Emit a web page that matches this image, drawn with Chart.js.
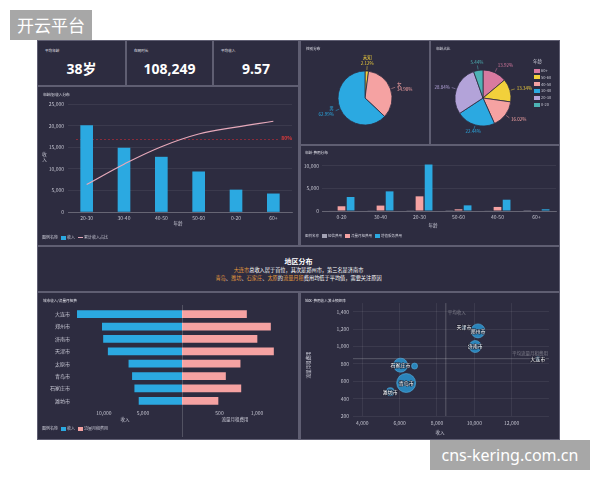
<!DOCTYPE html>
<html>
<head>
<meta charset="utf-8">
<script src="https://cdn.jsdelivr.net/npm/chart.js"></script>
<style>
  body { margin: 0; width: 600px; height: 480px; background: #fff; position: relative; overflow: hidden;
         font-family: "Noto Sans CJK SC", "Noto Sans", sans-serif; }
  .tag { position: absolute; background: #a7a7a7; color: #fff; white-space: nowrap; text-align: center; }
  #brand { left: 10px; top: 10px; width: 82px; height: 30px; font-size: 17px; line-height: 30px; }
  #mark { left: 430px; top: 440px; width: 160px; height: 30px; font-size: 16px; line-height: 30px; font-family: "Noto Sans", sans-serif; }
  #board { position: absolute; left: 37px; top: 40px; width: 523px; height: 400px; background: #5f5e72; }
  .p { position: absolute; background: #2d2c40; overflow: hidden; }
  .p canvas { position: absolute; top: 0; left: 0; }
  .t { position: absolute; color: #e4e4ec; font-size: 3.6px; line-height: 5px; white-space: nowrap; }
  .kv { position: absolute; left: 0; right: 0; top: 20px; text-align: center; color: #fff;
        font: bold 14px/16px "Noto Sans", "Noto Sans CJK SC", sans-serif; }
  .at { position: absolute; color: #c8c8d4; font-size: 4.5px; line-height: 5px; white-space: nowrap; transform: translate(-50%, -50%); }
  .lg { position: absolute; color: #c8c8d4; font-size: 4px; line-height: 6px; white-space: nowrap; }
  .lg i { display: inline-block; width: 5px; height: 4px; margin: 0 1px 0 3px; vertical-align: -0.5px; }
  .lg b { display: inline-block; width: 5px; height: 1px; margin: 0 1px 0 3px; vertical-align: 1.5px; }
  .bt { position: absolute; left: 0; right: 0; text-align: center; white-space: nowrap; }
  .o { color: #e39a3c; }
</style>
</head>
<body>
<div class="tag" id="brand">开云平台</div>

<div id="board">
  <div class="p" id="k1" style="left:1px;top:1px;width:87px;height:44px"></div>
  <div class="p" id="k2" style="left:90px;top:1px;width:85px;height:44px"></div>
  <div class="p" id="k3" style="left:177px;top:1px;width:84px;height:44px"></div>

  <div class="p" style="left:1px;top:47px;width:260px;height:158px">
    <canvas id="incomeChart" width="260" height="158"></canvas>
    <div class="t" style="left:5px;top:5px">年龄段/收入分布</div>
    <div class="at" style="left:6px;top:70px;writing-mode:vertical-rl;transform:translate(-50%,-50%)">收入</div>
    <div class="at" style="left:140px;top:136px">年龄</div>
    <div class="lg" id="incomeLegend" style="left:4px;top:147px"></div>
  </div>

  <div class="p" style="left:264px;top:1px;width:128px;height:103px">
    <canvas id="genderChart" width="128" height="103"></canvas>
    <div class="t" style="left:5px;top:5px">性别分布</div>
  </div>

  <div class="p" style="left:394px;top:1px;width:128px;height:103px">
    <canvas id="ageChart" width="128" height="103"></canvas>
    <div class="t" style="left:5px;top:5px">年龄占比</div>
    <div id="ageLegend"></div>
  </div>

  <div class="p" style="left:264px;top:106px;width:258px;height:99px">
    <canvas id="feeChart" width="258" height="99"></canvas>
    <div class="t" style="left:4px;top:4px">年龄-费用分布</div>
    <div class="at" style="left:132px;top:79px">年龄</div>
    <div class="lg" id="feeLegend" style="left:4px;top:87px;font-size:3.5px"></div>
  </div>

  <div class="p" style="left:1px;top:207px;width:521px;height:44px;color:#fff">
    <div class="bt" style="top:10px;font-size:7px;line-height:8px;font-weight:bold">地区分布</div>
    <div class="bt" style="top:20px;font-size:5.2px;line-height:6px"><span class="o">大连市</span>总收入居于首位，其次是郑州市，第三名是济南市</div>
    <div class="bt" style="top:28px;font-size:5.2px;line-height:6px"><span class="o">青岛</span>、<span class="o">潍坊</span>、<span class="o">石家庄</span>、<span class="o">太原</span>的<span class="o">流量月租</span>费用均低于平均值，需要关注原因</div>
  </div>

  <div class="p" style="left:1px;top:253px;width:260px;height:146px">
    <canvas id="cityIncomeChart" width="144" height="146"></canvas>
    <canvas id="cityFeeChart" width="116" height="146" style="left:144px"></canvas>
    <div style="position:absolute;left:144px;top:12px;width:1px;height:132px;background:rgba(255,255,255,0.18)"></div>
    <div class="t" style="left:5px;top:5px">城市收入/流量月租费</div>
    <div class="at" style="left:87px;top:126px">收入</div>
    <div class="at" style="left:197px;top:126px">流量月租费用</div>
    <div class="lg" id="cityLegend" style="left:4px;top:132px"></div>
  </div>

  <div class="p" style="left:264px;top:253px;width:258px;height:146px">
    <canvas id="bubbleChart" width="258" height="146"></canvas>
    <div class="t" style="left:4px;top:5px">地区-费用收入波士顿矩阵</div>
    <div class="at" style="left:139px;top:139px">收入</div>
    <div class="at" style="left:7px;top:72px;transform:translate(-50%,-50%) rotate(-90deg)">流量月租费用</div>
  </div>
</div>

<div class="tag" id="mark">cns-kering.com.cn</div>

<script>
'use strict'

// KPI cards
let kpiNames = ['平均年龄', '在网时长', '平均收入'];
let kpiValues = ['38岁', '108,249', '9.57'];

// 年龄段/收入分布
let incomeAges = ['20-30', '30-40', '40-50', '50-60', '0-20', '60+'];
let incomeValues = [20000, 14800, 12700, 9300, 5100, 4200];
let incomeCumPct = [30.3, 52.7, 71.9, 85.9, 93.6, 100];
let incomeTicks = [0, 5000, 10000, 15000, 20000, 25000];
let targetPct = 80;

// 性别分布
let genderNames = ['未知', '女', '男'];
let genderPct = [2.12, 34.90, 62.99];

// 年龄占比
let ageNames = ['60+', '50-60', '40-50', '30-40', '20-30', '0-20'];
let agePct = [13.92, 13.34, 16.02, 22.44, 28.84, 5.44];

// 年龄-费用分布
let feeAges = ['0-20', '30-40', '20-30', '50-60', '40-50', '60+'];
let feeNames = ['短信费用', '流量月租费用', '增值服务费用'];
let smsFee = [120, 80, 150, 60, 90, 40];
let dataFee = [1050, 1200, 3250, 380, 900, 100];
let vasFee = [3100, 4350, 10300, 1250, 2500, 380];
let feeTicks = [0, 5000, 10000];

// cities
let cities = ['大连市', '郑州市', '济南市', '天津市', '太原市', '青岛市', '石家庄市', '潍坊市'];
let cityIncome = [13400, 10200, 10050, 9450, 6800, 6350, 6050, 5500];
let cityDataFee = [860, 1180, 1000, 1220, 775, 580, 785, 480];
let cityUsers = [40, 490, 360, 40, 90, 900, 490, 160];
let incomeSideTicks = [5000, 10000];
let feeSideTicks = [500, 1000];
let bubbleXTicks = [4000, 6000, 8000, 10000, 12000];
let bubbleYTicks = [200, 400, 600, 800, 1000, 1200, 1400];

let blue = '#2ba9e1';
let pink = '#f5a2a2';
let gray = '#a3a2b4';
let yellow = '#f2d03b';
let ageColors = ['#d97aa0', yellow, pink, blue, '#b3a3d9', '#4db3b5'];
let gridColor = 'rgba(255,255,255,0.07)';
let axisLine = 'rgba(255,255,255,0.22)';
let cjk = '"Noto Sans CJK SC", "Noto Sans", sans-serif';

Chart.defaults.font.family = cjk;
Chart.defaults.font.size = 5;
Chart.defaults.color = '#c2c2ce';
Chart.defaults.animation = false;
Chart.defaults.plugins.legend.display = false;
Chart.defaults.plugins.tooltip.enabled = false;

// kpi cards
for (let i = 0; i < kpiNames.length; i++) {
    let card = document.getElementById('k' + (i + 1));
    card.innerHTML = `<div class="t" style="left:7px;top:7px">${kpiNames[i]}</div><div class="kv">${kpiValues[i]}</div>`;
}

function fixTicks (list) {
    return function (axis) {
        axis.ticks = list.map(v => ({ value: v }));
    };
}
function fixWidth (w) {
    return function (axis) { axis.width = w; };
}
function fixHeight (h) {
    return function (axis) { axis.height = h; };
}
function num (v) {
    return Number(v).toLocaleString('en-US');
}
function legendHtml (names, colors, kinds) {
    let html = '图例名称';
    for (let i = 0; i < names.length; i++) {
        let tag = kinds && kinds[i] === 'line' ? 'b' : 'i';
        html += `<${tag} style="background:${colors[i]}"></${tag}>${names[i]}`;
    }
    return html;
}

// red 80% line on the cumulative axis
let targetLine = {
    id: 'targetLine',
    beforeDatasetsDraw (chart) {
        let ctx = chart.ctx;
        let a = chart.chartArea;
        let y = chart.scales.y1.getPixelForValue(targetPct);
        ctx.save();
        ctx.strokeStyle = 'rgba(190,45,55,0.8)';
        ctx.lineWidth = 0.8;
        ctx.setLineDash([2, 2]);
        ctx.beginPath();
        ctx.moveTo(a.left + 8, y);
        ctx.lineTo(a.right - 14, y);
        ctx.stroke();
        ctx.fillStyle = '#e03a3a';
        ctx.font = 'bold 5px ' + cjk;
        ctx.textAlign = 'right';
        ctx.textBaseline = 'middle';
        ctx.fillText(targetPct + '%', a.right, y - 1);
        ctx.restore();
    }
};

new Chart('incomeChart', {
    type: 'bar',
    data: {
        labels: incomeAges,
        datasets: [{
            type: 'line',
            label: '累计收入占比',
            data: incomeCumPct,
            yAxisID: 'y1',
            borderColor: '#e6a9ba',
            borderWidth: 1.2,
            tension: 0.4,
            pointRadius: 0,
            order: 0
        }, {
            label: '收入',
            data: incomeValues,
            backgroundColor: blue,
            barThickness: 12,
            order: 1
        }]
    },
    options: {
        responsive: false,
        layout: { padding: { left: 0, right: 6, top: 17, bottom: 19 } },
        scales: {
            x: { grid: { display: false, drawTicks: false }, border: { color: axisLine }, ticks: { padding: 3 }, afterFit: fixHeight(14) },
            y: { min: 0, max: 25000, afterBuildTicks: fixTicks(incomeTicks),
                 grid: { color: gridColor, drawTicks: false }, border: { display: false },
                 ticks: { padding: 4, callback: num }, afterFit: fixWidth(30) },
            y1: { display: false, min: 0, max: 119 }
        }
    },
    plugins: [targetLine]
});
document.getElementById('incomeLegend').innerHTML = legendHtml(['收入', '累计收入占比'], [blue, '#e6a9ba'], ['bar', 'line']);

// pie labels outside the slices
function pieLabels (names) {
    return {
        id: 'pieLabels',
        afterDatasetsDraw (chart) {
            let ctx = chart.ctx;
            let ds = chart.data.datasets[0];
            ctx.save();
            ctx.font = '4.5px ' + cjk;
            ctx.lineWidth = 0.5;
            chart.getDatasetMeta(0).data.forEach(function (arc, i) {
                let ang = (arc.startAngle + arc.endAngle) / 2;
                let r = arc.outerRadius;
                let c = Math.cos(ang);
                let s = Math.sin(ang);
                let color = ds.backgroundColor[i];
                ctx.strokeStyle = color;
                ctx.beginPath();
                ctx.moveTo(arc.x + c * (r + 1), arc.y + s * (r + 1));
                ctx.lineTo(arc.x + c * (r + 5), arc.y + s * (r + 5));
                ctx.stroke();
                let pct = ds.data[i].toFixed(2) + '%';
                let lines = names ? [names[i], pct] : [pct];
                let x = arc.x + c * (r + 7);
                let y = arc.y + s * (r + 7);
                ctx.fillStyle = color;
                ctx.textAlign = c > 0.35 ? 'left' : (c < -0.35 ? 'right' : 'center');
                ctx.textBaseline = 'middle';
                let h = 5.5;
                let y0 = y - (lines.length - 1) * h / 2;
                if (s < -0.8) y0 -= (lines.length - 1) * h / 2 + 1;
                lines.forEach((t, k) => ctx.fillText(t, x, y0 + k * h));
            });
            ctx.restore();
        }
    };
}

new Chart('genderChart', {
    type: 'pie',
    data: {
        labels: genderNames,
        datasets: [{ data: genderPct, backgroundColor: [yellow, pink, blue], borderColor: '#2d2c40', borderWidth: 0.8, hoverOffset: 0 }]
    },
    options: {
        responsive: false,
        radius: 27,
        layout: { padding: { left: 37, right: 37, top: 30, bottom: 19 } }
    },
    plugins: [pieLabels(genderNames)]
});

new Chart('ageChart', {
    type: 'pie',
    data: {
        labels: ageNames,
        datasets: [{ data: agePct, backgroundColor: ageColors, borderColor: '#2d2c40', borderWidth: 0.8, hoverOffset: 0 }]
    },
    options: {
        responsive: false,
        radius: 28,
        layout: { padding: { left: 24, right: 48, top: 29, bottom: 18 } }
    },
    plugins: [pieLabels(null)]
});

let ageLegend = '<div class="lg" style="left:102px;top:17px;font-size:4.5px">年龄</div>';
for (let i = 0; i < ageNames.length; i++) {
    ageLegend += `<div class="lg" style="left:100px;top:${26 + i * 6.8}px"><i style="background:${ageColors[i]};width:6px"></i>${ageNames[i]}</div>`;
}
document.getElementById('ageLegend').innerHTML = ageLegend;

new Chart('feeChart', {
    type: 'bar',
    data: {
        labels: feeAges,
        datasets: [
            { label: feeNames[0], data: smsFee, backgroundColor: gray },
            { label: feeNames[1], data: dataFee, backgroundColor: pink },
            { label: feeNames[2], data: vasFee, backgroundColor: blue }
        ]
    },
    options: {
        responsive: false,
        datasets: { bar: { categoryPercentage: 0.7, barPercentage: 0.85 } },
        layout: { padding: { left: 0, right: 3, top: 14, bottom: 22 } },
        scales: {
            x: { grid: { display: false, drawTicks: false }, border: { color: axisLine }, ticks: { padding: 3 }, afterFit: fixHeight(12) },
            y: { min: 0, max: 11300, afterBuildTicks: fixTicks(feeTicks),
                 grid: { color: gridColor, drawTicks: false }, border: { display: false },
                 ticks: { padding: 3, callback: num }, afterFit: fixWidth(21) }
        }
    }
});
document.getElementById('feeLegend').innerHTML = legendHtml(feeNames, [gray, pink, blue]);

// butterfly: income to the left, data fee to the right
new Chart('cityIncomeChart', {
    type: 'bar',
    data: { labels: cities, datasets: [{ label: '收入', data: cityIncome, backgroundColor: blue, barThickness: 7 }] },
    options: {
        indexAxis: 'y',
        responsive: false,
        layout: { padding: { left: 0, right: 0, top: 15, bottom: 20 } },
        scales: {
            x: { reverse: true, min: 0, max: 13700, afterBuildTicks: fixTicks(incomeSideTicks),
                 grid: { display: false, drawTicks: false }, border: { display: false },
                 ticks: { padding: 3, callback: num }, afterFit: fixHeight(12) },
            y: { grid: { display: false, drawTicks: false }, border: { display: false }, ticks: { padding: 5, color: '#c8c8d4' }, afterFit: fixWidth(37) }
        }
    }
});

new Chart('cityFeeChart', {
    type: 'bar',
    data: { labels: cities, datasets: [{ label: '流量月租费用', data: cityDataFee, backgroundColor: pink, barThickness: 7 }] },
    options: {
        indexAxis: 'y',
        responsive: false,
        layout: { padding: { left: 0, right: 8, top: 15, bottom: 20 } },
        scales: {
            x: { min: 0, max: 1440, afterBuildTicks: fixTicks(feeSideTicks),
                 grid: { display: false, drawTicks: false }, border: { display: false },
                 ticks: { padding: 3, callback: num }, afterFit: fixHeight(12) },
            y: { display: false }
        }
    }
});
document.getElementById('cityLegend').innerHTML = legendHtml(['收入', '流量月租费用'], [blue, pink]);

// bubble matrix
let avgIncome = cityIncome.reduce((a, b) => a + b, 0) / cityIncome.length;
let avgFee = cityDataFee.reduce((a, b) => a + b, 0) / cityDataFee.length;

let avgLines = {
    id: 'avgLines',
    beforeDatasetsDraw (chart) {
        let ctx = chart.ctx;
        let a = chart.chartArea;
        let x = chart.scales.x.getPixelForValue(avgIncome);
        let y = chart.scales.y.getPixelForValue(avgFee);
        ctx.save();
        ctx.strokeStyle = 'rgba(255,255,255,0.28)';
        ctx.lineWidth = 0.8;
        ctx.beginPath();
        ctx.moveTo(x, a.top);
        ctx.lineTo(x, a.bottom);
        ctx.moveTo(a.left, y);
        ctx.lineTo(a.right, y);
        ctx.stroke();
        ctx.fillStyle = 'rgba(255,255,255,0.35)';
        ctx.font = '4.5px ' + cjk;
        ctx.textBaseline = 'middle';
        ctx.textAlign = 'left';
        ctx.fillText('平均收入', x + 2, a.top + 9);
        ctx.textAlign = 'right';
        ctx.fillText('平均流量月租费用', a.right - 1, y - 5);
        ctx.restore();
    }
};

let bubbleNames = {
    id: 'bubbleNames',
    afterDatasetsDraw (chart) {
        let ctx = chart.ctx;
        let pts = chart.getDatasetMeta(0).data;
        let order = cities.map((c, i) => i).sort((a, b) => cityUsers[b] - cityUsers[a]);
        let boxes = [];
        ctx.save();
        ctx.font = '5px ' + cjk;
        ctx.textAlign = 'center';
        ctx.textBaseline = 'middle';
        ctx.lineWidth = 1.2;
        ctx.strokeStyle = 'rgba(25,25,40,0.8)';
        ctx.fillStyle = '#ffffff';
        order.forEach(function (i) {
            let p = pts[i];
            let w = ctx.measureText(cities[i]).width;
            let box = { l: p.x - w / 2 + 1, r: p.x + w / 2 - 1, t: p.y - 2, b: p.y + 2 };
            let hit = boxes.some(o => box.l < o.r && box.r > o.l && box.t < o.b && box.b > o.t);
            if (hit) return;
            boxes.push(box);
            ctx.strokeText(cities[i], p.x, p.y);
            ctx.fillText(cities[i], p.x, p.y);
        });
        ctx.restore();
    }
};

new Chart('bubbleChart', {
    type: 'bubble',
    data: {
        datasets: [{
            label: '城市',
            data: cities.map((c, i) => ({ x: cityIncome[i], y: cityDataFee[i], r: Math.sqrt(cityUsers[i]) / 3.16 })),
            backgroundColor: 'rgba(42,140,196,0.92)',
            borderColor: 'rgba(90,185,235,0.9)',
            borderWidth: 0.6
        }]
    },
    options: {
        responsive: false,
        layout: { padding: { left: 0, right: 4, top: 10, bottom: 11 } },
        scales: {
            x: { min: 3500, max: 14000, afterBuildTicks: fixTicks(bubbleXTicks),
                 grid: { color: gridColor, drawTicks: false }, border: { display: false },
                 ticks: { padding: 4, callback: num }, afterFit: fixHeight(12) },
            y: { min: 200, max: 1500, afterBuildTicks: fixTicks(bubbleYTicks),
                 grid: { color: gridColor, drawTicks: false }, border: { display: false },
                 ticks: { padding: 4, callback: num }, afterFit: fixWidth(52) }
        }
    },
    plugins: [avgLines, bubbleNames]
});
</script>
</body>
</html>
